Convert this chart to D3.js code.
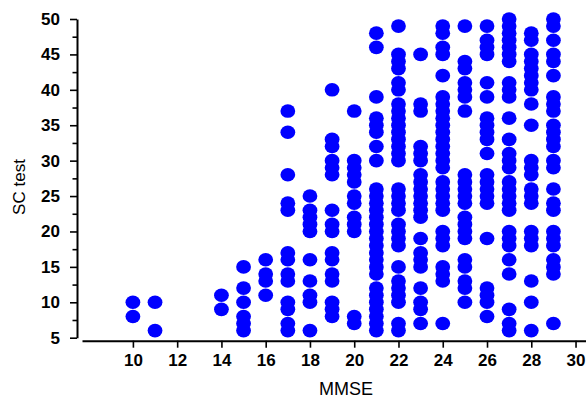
<!DOCTYPE html>
<html>
<head>
<meta charset="utf-8">
<script src="https://cdn.jsdelivr.net/npm/d3@7"></script>
<style>
  html, body { margin: 0; padding: 0; background: #fff; }
  svg { display: block; }
  text { font-family: "Liberation Sans", Arial, sans-serif; fill: #000; }
</style>
</head>
<body>
<svg id="chart" width="586" height="399"></svg>
<script>
// ---- Data ----
const mmseLevels = [10, 11, 14, 15, 16, 17, 18, 19, 20, 21, 22, 23, 24, 25, 26, 27, 28, 29];
const scTestByMmse = [
  [10, 8],
  [10, 6],
  [11, 9],
  [15, 12, 10, 8, 7, 6],
  [16, 14, 13, 11],
  [37, 34, 28, 24, 23, 17, 16, 14, 13, 10, 9, 7, 6],
  [25, 23, 22, 21, 20, 16, 13, 11, 10, 6],
  [40, 33, 32, 30, 29, 28, 23, 21, 20, 17, 16, 14, 13, 10, 9, 8],
  [37, 30, 29, 28, 27, 25, 24, 22, 21, 20, 8, 7],
  [48, 46, 39, 36, 35, 34, 32, 30, 26, 25, 24, 23, 22, 21, 20, 19, 18, 17, 16, 15, 14, 12, 11, 10, 9, 8, 7, 6],
  [49, 45, 44, 43, 41, 40, 38, 37, 36, 35, 34, 33, 32, 31, 30, 26, 25, 24, 23, 21, 20, 19, 18, 15, 13, 12, 11, 10, 7, 6],
  [45, 38, 37, 32, 31, 30, 28, 27, 26, 25, 24, 23, 22, 19, 17, 16, 15, 12, 10, 9, 7],
  [49, 48, 46, 45, 42, 39, 38, 37, 36, 35, 34, 33, 32, 31, 30, 29, 27, 26, 25, 24, 23, 20, 19, 18, 15, 14, 13, 7],
  [49, 44, 43, 41, 40, 39, 37, 28, 27, 26, 25, 24, 22, 21, 20, 19, 16, 15, 13, 12, 10],
  [49, 47, 46, 45, 41, 39, 36, 35, 34, 33, 31, 28, 27, 26, 25, 24, 19, 12, 11, 10, 8],
  [50, 49, 48, 47, 46, 45, 44, 41, 40, 39, 36, 33, 31, 30, 29, 27, 26, 25, 24, 23, 20, 19, 18, 16, 14, 9, 7, 6],
  [48, 47, 45, 44, 43, 42, 41, 40, 38, 35, 30, 29, 28, 26, 25, 24, 20, 19, 18, 13, 10, 6],
  [50, 49, 47, 45, 44, 42, 39, 38, 37, 35, 34, 33, 32, 30, 29, 26, 24, 23, 20, 19, 18, 16, 15, 14, 7]
];
const xTicks = [10, 12, 14, 16, 18, 20, 22, 24, 26, 28, 30];
const yTicks = [5, 10, 15, 20, 25, 30, 35, 40, 45, 50];
const yMinorTicks = [7.5, 12.5, 17.5, 22.5, 27.5, 32.5, 37.5, 42.5, 47.5];
const xTitle = "MMSE";
const yTitle = "SC test";

// ---- Build point table ----
const points = [];
mmseLevels.forEach((m, i) => scTestByMmse[i].forEach(v => points.push({ mmse: m, sc: v })));

// ---- Scales ----
const svg = d3.select("#chart");
const x = d3.scaleLinear().domain([7.7, 30.45]).range([82, 585.5]);
const y = d3.scaleLinear().domain([5, 50]).range([337.7, 19]);
const xAxisY = 340.7;
const yAxisX = 77;
const FONT = "Liberation Sans, Arial, sans-serif";

// ---- Points ----
svg.append("g")
  .selectAll("ellipse")
  .data(points)
  .join("ellipse")
  .attr("cx", d => x(d.mmse))
  .attr("cy", d => y(d.sc))
  .attr("rx", 7.4)
  .attr("ry", 6.8)
  .attr("fill", "#0000ff");

// ---- Y axis ----
const yAxis = d3.axisLeft(y).tickValues(yTicks).tickSize(7).tickPadding(10).tickSizeOuter(0);
const gy = svg.append("g").attr("transform", `translate(${yAxisX},0)`).call(yAxis);
gy.select(".domain").attr("stroke", "#000").attr("stroke-width", 2);
gy.selectAll(".tick line").attr("stroke", "#000").attr("stroke-width", 1.6);
gy.selectAll(".tick text").attr("font-size", 17).attr("font-family", FONT).attr("font-weight", "bold").attr("fill", "#000");
const gyMinor = svg.append("g").attr("transform", `translate(${yAxisX},0)`)
  .call(d3.axisLeft(y).tickValues(yMinorTicks).tickSize(4.5).tickFormat("").tickSizeOuter(0));
gyMinor.select(".domain").remove();
gyMinor.selectAll(".tick line").attr("stroke", "#000").attr("stroke-width", 1.6);

// ---- X axis ----
const xAxis = d3.axisBottom(x).tickValues(xTicks).tickSize(7).tickPadding(6).tickSizeOuter(0);
const gx = svg.append("g").attr("transform", `translate(0,${xAxisY})`).call(xAxis);
gx.select(".domain").attr("stroke", "#000").attr("stroke-width", 2);
gx.selectAll(".tick line").attr("stroke", "#000").attr("stroke-width", 1.6);
gx.selectAll(".tick text").attr("font-size", 17).attr("font-family", FONT).attr("font-weight", "bold").attr("fill", "#000");

// ---- Titles ----
svg.append("text")
  .attr("x", 346).attr("y", 395)
  .attr("text-anchor", "middle")
  .attr("font-size", 18)
  .attr("font-family", FONT)
  .text(xTitle);
svg.append("text")
  .attr("transform", `translate(25,187) rotate(-90)`)
  .attr("text-anchor", "middle")
  .attr("font-size", 17)
  .attr("font-family", FONT)
  .text(yTitle);
</script>
</body>
</html>
